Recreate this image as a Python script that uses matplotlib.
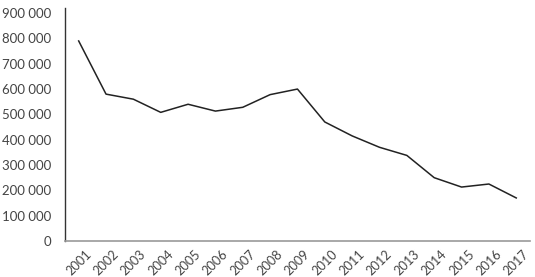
import matplotlib
matplotlib.use("Agg")
import matplotlib.pyplot as plt
from matplotlib.ticker import FuncFormatter

years = [str(y) for y in range(2001, 2018)]
values = [790000, 580000, 560000, 508000, 540000, 513000, 528000, 578000, 600000,
          470000, 415000, 370000, 338000, 250000, 213000, 225000, 170000]
yticks = [0, 100000, 200000, 300000, 400000, 500000, 600000, 700000, 800000, 900000]

plt.rcParams['font.family'] = ['Lato', 'DejaVu Sans']

fig = plt.figure(figsize=(5.35, 2.77), dpi=100)
ax = fig.add_axes([0.1215, 0.130, 0.869, 0.841])
x = list(range(len(years)))
ax.plot(x, values, color='#222222', linewidth=1.1)
ax.set_xlim(-0.5, len(years) - 0.5)
ax.set_ylim(0, 920000)
ax.set_yticks(yticks)
ax.yaxis.set_major_formatter(FuncFormatter(lambda v, p: f"{int(v):,}".replace(",", " ")))
ax.set_xticks(x)
ax.set_xticklabels(years, rotation=45, ha='center', va='top', fontsize=9.2, color='#444444')
for lbl in ax.get_yticklabels():
    lbl.set_fontsize(9.5)
ax.tick_params(axis='both', length=0, labelcolor='#444444')
ax.tick_params(axis='y', pad=10)
ax.tick_params(axis='x', pad=5)
for s in ['top', 'right']:
    ax.spines[s].set_visible(False)
ax.spines['left'].set_color('#333333')
ax.spines['bottom'].set_color('#999999')
ax.spines['left'].set_linewidth(1.0)
ax.spines['bottom'].set_linewidth(1.2)
fig.savefig("out.png", dpi=100)
